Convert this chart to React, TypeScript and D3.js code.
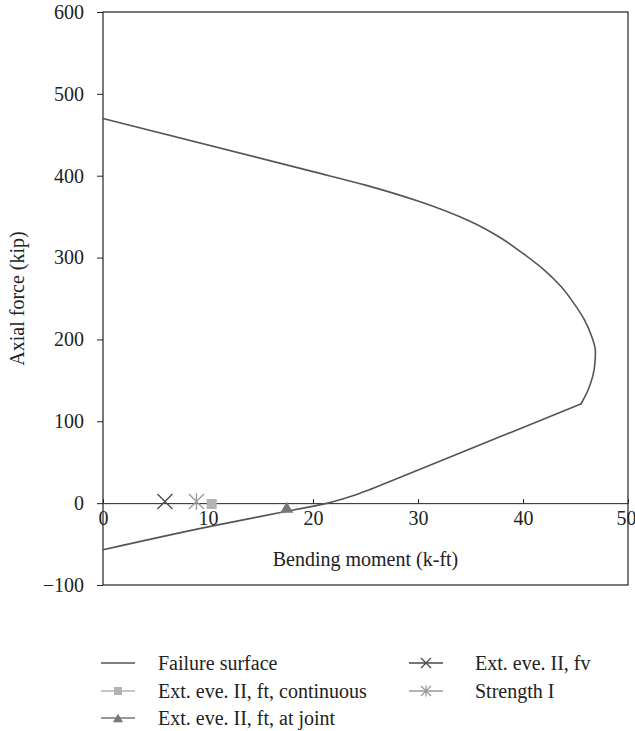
import React, { useRef, useEffect } from "react";
import * as d3 from "d3";

// failure surface (bending moment k-ft, axial force kip)
const surfaceMoment = [0, 20, 25, 30, 35, 38, 40, 42, 43.6, 44.8, 45.8, 46.5, 46.9, 46.8, 46.4, 45.9, 45.5, 35, 29.9, 25.5, 24, 22.8, 21.4, 17.5, 10, 0];
const surfaceAxial = [470, 405, 388.5, 369, 344, 323, 305, 285, 265, 245, 225, 205, 185, 165, 145, 130, 121, 66.5, 40, 17, 10, 5, 0, -10, -29, -57];
// the surface has a straight stretch between the kink at ~(45.5, 121) and ~(25.5, 17)
const cornerTop = 16;
const cornerLow = 19;

// load points
const pointNames = ["Ext. eve. II, ft, continuous", "Ext. eve. II, ft, at joint", "Ext. eve. II, fv", "Strength I"];
const pointMoment = [10.35, 17.5, 5.9, 8.9];
const pointAxial = [-1, -5, 2, 2];

const xTicks = [0, 10, 20, 30, 40, 50];
const yTicks = [-100, 0, 100, 200, 300, 400, 500, 600];

const W = 635;
const H = 731;
const M = { left: 103, right: 628, top: 12, bottom: 585 };
const FONT = "'Liberation Serif', 'DejaVu Serif', serif";
const FS = 20;

const colors = {
    surface: "#555555",
    square: "#b3b3b3",
    triangle: "#777777",
    cross: "#4a4a4a",
    star: "#9a9a9a",
};

function Marker({ kind, cx, cy, s }: { kind: string; cx: number; cy: number; s: number }) {
    if (kind === "square") {
        return <rect x={cx - s / 2} y={cy - s / 2} width={s} height={s} fill={colors.square} />;
    }
    if (kind === "triangle") {
        const h = s * 0.85;
        return <path d={`M${cx},${cy - h / 2}L${cx + s / 2},${cy + h / 2}L${cx - s / 2},${cy + h / 2}Z`} fill={colors.triangle} />;
    }
    if (kind === "cross") {
        const r = s / 2;
        return <path d={`M${cx - r},${cy - r}L${cx + r},${cy + r}M${cx - r},${cy + r}L${cx + r},${cy - r}`} stroke={colors.cross} strokeWidth={1.3} />;
    }
    // asterisk
    const r = s / 2;
    return (
        <path
            d={`M${cx - r},${cy - r}L${cx + r},${cy + r}M${cx - r},${cy + r}L${cx + r},${cy - r}M${cx},${cy - r * 1.1}L${cx},${cy + r * 1.1}`}
            stroke={colors.star}
            strokeWidth={1.3}
        />
    );
}

const pointKinds = ["square", "triangle", "cross", "star"];

export default function App() {
    const yAxisRef = useRef<SVGGElement>(null);
    const xAxisRef = useRef<SVGGElement>(null);

    const x = d3.scaleLinear().domain([0, 50]).range([M.left, M.right]);
    const y = d3.scaleLinear().domain([-100, 600]).range([M.bottom, M.top]);

    useEffect(() => {
        if (!yAxisRef.current || !xAxisRef.current) return;
        const ya = d3.select(yAxisRef.current);
        ya.call(d3.axisLeft(y).tickValues(yTicks).tickSizeInner(6).tickSizeOuter(0).tickPadding(13));
        ya.select(".domain").remove();
        ya.selectAll("line").attr("stroke", "#222");
        ya.selectAll("text").style("font-family", FONT).style("font-size", FS + "px").attr("fill", "#222");

        const xa = d3.select(xAxisRef.current);
        xa.call(d3.axisBottom(x).tickValues(xTicks).tickSizeInner(-4).tickSizeOuter(0).tickPadding(8));
        xa.select(".domain").attr("stroke", "#222");
        xa.selectAll("line").attr("stroke", "#222");
        xa.selectAll("text").style("font-family", FONT).style("font-size", FS + "px").attr("fill", "#222");
        // last label sits on the frame edge; keep it inside the page
        xa.selectAll<SVGTextElement, number>("text").filter(d => d === 50).attr("dx", "-2");
    }, []);

    const pts = surfaceMoment.map((m, i) => [m, surfaceAxial[i]] as [number, number]);
    const smooth = d3.line<[number, number]>()
        .x(d => x(d[0]))
        .y(d => y(d[1]))
        .curve(d3.curveMonotoneY);
    const straight = d3.line<[number, number]>()
        .x(d => x(d[0]))
        .y(d => y(d[1]));

    const pieces = [
        smooth(pts.slice(0, cornerTop + 1)),
        straight(pts.slice(cornerTop, cornerLow + 1)),
        smooth(pts.slice(cornerLow)),
    ];

    const legendRows = [
        { label: "Failure surface", kind: "none", color: colors.surface, lx: 101, tx: 158, ly: 663 },
        { label: pointNames[0], kind: "square", color: colors.square, lx: 101, tx: 158, ly: 691 },
        { label: pointNames[1], kind: "triangle", color: colors.triangle, lx: 101, tx: 158, ly: 718 },
        { label: pointNames[2], kind: "cross", color: colors.cross, lx: 409, tx: 475, ly: 663 },
        { label: pointNames[3], kind: "star", color: colors.star, lx: 409, tx: 475, ly: 691 },
    ];

    return (
        <div style={{ position: "absolute", left: 0, top: 0 }}>
            <svg width={W} height={H} style={{ display: "block", background: "#fff" }}>
                <rect x={M.left} y={M.top} width={M.right - M.left} height={M.bottom - M.top} fill="none" stroke="#222" strokeWidth={1.2} />
                <g ref={yAxisRef} transform={`translate(${M.left},0)`} />
                <g ref={xAxisRef} transform={`translate(0,${y(0)})`} />

                {pieces.map((d, i) => (
                    <path key={i} d={d || ""} fill="none" stroke={colors.surface} strokeWidth={1.6} strokeLinejoin="round" strokeLinecap="round" />
                ))}

                {pointMoment.map((m, i) => (
                    <Marker key={i} kind={pointKinds[i]} cx={x(m)} cy={y(pointAxial[i])} s={i === 0 ? 10 : i === 1 ? 13 : 15} />
                ))}

                <text
                    transform={`translate(24,${(M.top + M.bottom) / 2}) rotate(-90)`}
                    textAnchor="middle"
                    style={{ fontFamily: FONT, fontSize: FS }}
                    fill="#222"
                >
                    Axial force (kip)
                </text>
                <text x={(M.left + M.right) / 2} y={566} textAnchor="middle" style={{ fontFamily: FONT, fontSize: FS }} fill="#222">
                    Bending moment (k-ft)
                </text>

                {legendRows.map((r, i) => (
                    <g key={i}>
                        <line x1={r.lx} x2={r.lx + 34} y1={r.ly} y2={r.ly} stroke={r.color} strokeWidth={1.4} />
                        {r.kind !== "none" && <Marker kind={r.kind} cx={r.lx + 17} cy={r.ly} s={r.kind === "square" ? 8 : 10} />}
                        <text x={r.tx} y={r.ly} dy="0.35em" style={{ fontFamily: FONT, fontSize: FS }} fill="#222">
                            {r.label}
                        </text>
                    </g>
                ))}
            </svg>
        </div>
    );
}
